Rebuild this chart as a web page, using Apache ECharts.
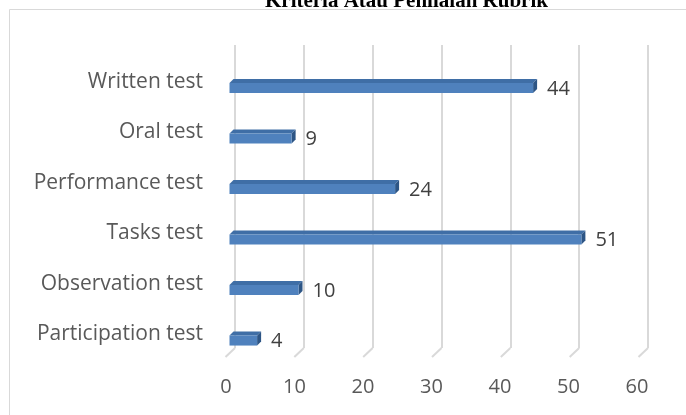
<!DOCTYPE html>
<html>
<head>
<meta charset="utf-8">
<script src="https://cdn.jsdelivr.net/npm/echarts@6/dist/echarts.min.js"></script>
<style>
html,body{margin:0;padding:0;background:#fff;}
#chart{width:686px;height:415px;}
</style>
</head>
<body>
<div id="chart"></div>
<script>
const titleText = 'Kriteria Atau Penilaian Rubrik';
const categories = ['Written test', 'Oral test', 'Performance test', 'Tasks test', 'Observation test', 'Participation test'];
const values = [44, 9, 24, 51, 10, 4];
const xTicks = [0, 10, 20, 30, 40, 50, 60];

const chart = echarts.init(document.getElementById('chart'), null, {renderer: 'canvas'});
const FONT = '"Open Sans", sans-serif';
const GRID_C = '#d9d9d9';
const DEPTH = 4;

const option = {
  backgroundColor: '#ffffff',
  animation: false,
  title: {
    text: titleText,
    left: 265,
    top: -9,
    padding: 0,
    textStyle: {fontFamily: '"Liberation Serif", serif', fontWeight: 'bold', fontSize: 21, color: '#000'}
  },
  graphic: [{
    type: 'rect', z: -10, silent: true,
    shape: {x: 9.5, y: 9.5, width: 720, height: 440},
    style: {fill: null, stroke: GRID_C, lineWidth: 1}
  }],
  grid: [
    {left: 235, top: 45, width: 413, height: 303},
    {left: 226, top: 45, width: 411, height: 312},
    {left: 229.5, top: 62.75, width: 414, height: 303}
  ],
  xAxis: [
    {gridIndex: 0, type: 'value', min: 0, max: 60, interval: 10,
     axisLine: {show: false}, axisTick: {show: false}, axisLabel: {show: false},
     splitLine: {show: true, lineStyle: {color: GRID_C, width: 2}}},
    {gridIndex: 1, type: 'value', min: 0, max: 60, interval: 10,
     axisLine: {show: false}, axisTick: {show: false}, splitLine: {show: false},
     axisLabel: {show: true, margin: 20, fontFamily: FONT, fontSize: 20, color: '#595959'}},
    {gridIndex: 2, type: 'value', min: 0, max: 60, interval: 10, show: false}
  ],
  yAxis: [
    {gridIndex: 0, type: 'value', min: 0, max: 1, show: false},
    {gridIndex: 1, type: 'value', min: 0, max: 1, show: false},
    {gridIndex: 2, type: 'category', data: categories, inverse: true,
     axisLine: {show: false}, axisTick: {show: false}, splitLine: {show: false},
     axisLabel: {show: true, margin: 26.5, fontFamily: FONT, fontSize: 21, color: '#595959',
                 verticalAlign: 'bottom', lineHeight: 12}}
  ],
  series: [
    {
      type: 'custom', xAxisIndex: 0, yAxisIndex: 0, silent: true,
      data: xTicks.map(v => [v, 0]),
      encode: {x: 0, y: 1},
      renderItem: function (params, api) {
        const p = api.coord([api.value(0), 0]);
        return {
          type: 'line',
          shape: {x1: p[0], y1: p[1], x2: p[0] - 9.5, y2: p[1] + 9},
          style: {stroke: GRID_C, lineWidth: 2}
        };
      }
    },
    {
      type: 'custom', xAxisIndex: 2, yAxisIndex: 2, silent: true,
      data: values.map((v, i) => [v, i]),
      encode: {x: 0, y: 1},
      renderItem: function (params, api) {
        const v = api.value(0), idx = api.value(1);
        const s = api.coord([0, idx]);
        const e = api.coord([v, idx]);
        const h = api.size([0, 1])[1] * 0.2;
        const x0 = s[0], x1 = e[0], yT = s[1] - h / 2, yB = s[1] + h / 2;
        const d = DEPTH;
        return {
          type: 'group',
          children: [
            {type: 'polygon', shape: {points: [[x0, yT], [x1, yT], [x1 + d, yT - d], [x0 + d, yT - d]]},
             style: {fill: '#3f6ea6'}},
            {type: 'polygon', shape: {points: [[x1, yT], [x1 + d, yT - d], [x1 + d, yB - d], [x1, yB]]},
             style: {fill: '#2d5585'}},
            {type: 'rect', shape: {x: x0, y: yT, width: x1 - x0, height: h},
             style: {fill: '#4f81bd'}},
            {type: 'text', x: x1 + d + 10, y: s[1] + 1,
             style: {text: String(v), fontFamily: FONT, fontSize: 20, fill: '#404040',
                     align: 'left', verticalAlign: 'middle'}}
          ]
        };
      }
    }
  ]
};
chart.setOption(option);
</script>
</body>
</html>
